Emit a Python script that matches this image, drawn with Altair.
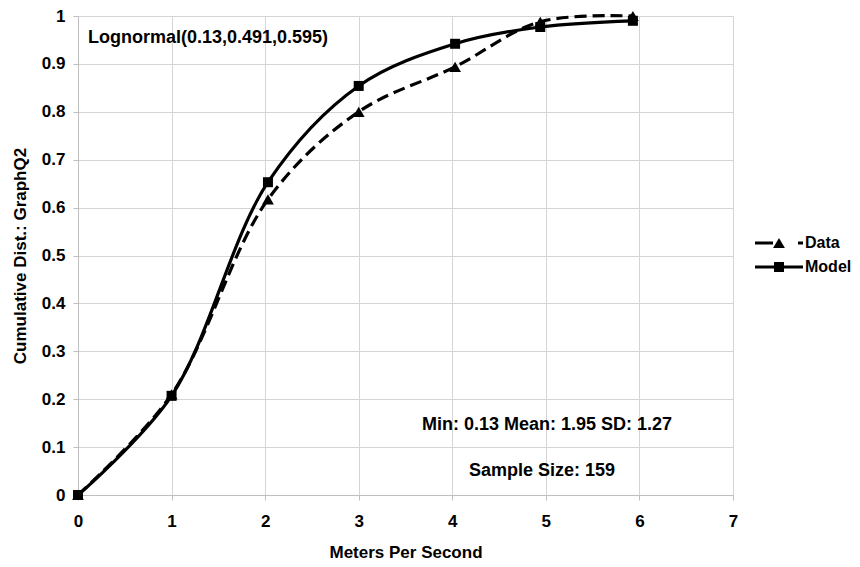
import altair as alt
import pandas as pd

# ---- values ----
x_vals = [0.0, 1.0, 2.03, 3.0, 4.03, 4.94, 5.93]
data_cdf = [0.0, 0.21, 0.617, 0.80, 0.894, 0.988, 1.0]
model_cdf = [0.0, 0.207, 0.653, 0.854, 0.942, 0.977, 0.99]
x_ticks = [0, 1, 2, 3, 4, 5, 6, 7]
y_ticks = [0, 0.1, 0.2, 0.3, 0.4, 0.5, 0.6, 0.7, 0.8, 0.9, 1.0]
series_names = ["Data", "Model"]
dist_label = "Lognormal(0.13,0.491,0.595)"
stats_label = "Min: 0.13 Mean: 1.95 SD: 1.27"
size_label = "Sample Size: 159"

FONT = "Liberation Sans"

df = pd.DataFrame(
    {
        "x": x_vals * 2,
        "y": data_cdf + model_cdf,
        "series": [series_names[0]] * len(x_vals) + [series_names[1]] * len(x_vals),
    }
)

xs = alt.Scale(domain=[0, 7], nice=False, zero=False)
ys = alt.Scale(domain=[0, 1], nice=False)

xenc = alt.X(
    "x:Q",
    scale=xs,
    axis=alt.Axis(values=x_ticks, title="Meters Per Second", format="d"),
)
yenc = alt.Y(
    "y:Q",
    scale=ys,
    axis=alt.Axis(values=y_ticks, title="Cumulative Dist.: GraphQ2", format="~g"),
)

base = alt.Chart(df)

data_line = base.transform_filter(alt.datum.series == "Data").mark_line(
    color="black", strokeWidth=3.2, strokeDash=[12, 6], interpolate="catmull-rom"
).encode(x=xenc, y=yenc)
data_pts = base.transform_filter(alt.datum.series == "Data").mark_point(
    shape="triangle-up", filled=True, color="black", size=140, opacity=1
).encode(x="x:Q", y="y:Q")

model_line = base.transform_filter(alt.datum.series == "Model").mark_line(
    color="black", strokeWidth=3.2, interpolate="catmull-rom"
).encode(x="x:Q", y="y:Q")
model_pts = base.transform_filter(alt.datum.series == "Model").mark_point(
    shape="square", filled=True, color="black", size=100, opacity=1
).encode(x="x:Q", y="y:Q")

# annotations
ann_df = pd.DataFrame({"t": [dist_label]})
dist_txt = alt.Chart(ann_df).mark_text(
    font=FONT, fontWeight="bold", fontSize=18, align="left", baseline="middle", color="black"
).encode(text="t:N", x=alt.value(10), y=alt.value(22))

stats_df = pd.DataFrame({"t": [stats_label]})
stats_txt = alt.Chart(stats_df).mark_text(
    font=FONT, fontWeight="bold", fontSize=18, align="center", baseline="middle", color="black"
).encode(text="t:N", x=alt.value(469), y=alt.value(409))

size_df = pd.DataFrame({"t": [size_label]})
size_txt = alt.Chart(size_df).mark_text(
    font=FONT, fontWeight="bold", fontSize=18, align="center", baseline="middle", color="black"
).encode(text="t:N", x=alt.value(464), y=alt.value(455))

# legend (drawn by hand to show line + marker)
leg_data = pd.DataFrame({"t": [series_names[0]]})
leg_model = pd.DataFrame({"t": [series_names[1]]})
leg1_line = alt.Chart(leg_data).mark_rule(
    color="black", strokeWidth=3, strokeDash=[18, 25]
).encode(x=alt.value(677), x2=alt.value(725), y=alt.value(227))
leg1_pt = alt.Chart(leg_data).mark_point(
    shape="triangle-up", filled=True, color="black", size=140, opacity=1
).encode(x=alt.value(701), y=alt.value(227))
leg1_txt = alt.Chart(leg_data).mark_text(
    font=FONT, fontWeight="bold", fontSize=16, align="left", baseline="middle", color="black"
).encode(text="t:N", x=alt.value(727), y=alt.value(227))
leg2_line = alt.Chart(leg_model).mark_rule(color="black", strokeWidth=3).encode(
    x=alt.value(677), x2=alt.value(725), y=alt.value(251)
)
leg2_pt = alt.Chart(leg_model).mark_point(
    shape="square", filled=True, color="black", size=100, opacity=1
).encode(x=alt.value(701), y=alt.value(251))
leg2_txt = alt.Chart(leg_model).mark_text(
    font=FONT, fontWeight="bold", fontSize=16, align="left", baseline="middle", color="black"
).encode(text="t:N", x=alt.value(727), y=alt.value(251))

chart = (
    alt.layer(
        data_line, model_line, data_pts, model_pts,
        dist_txt, stats_txt, size_txt,
        leg1_line, leg1_pt, leg1_txt, leg2_line, leg2_pt, leg2_txt,
    )
    .properties(
        width=655,
        height=479,
        autosize=alt.AutoSizeParams(type="none"),
        padding={"left": 70, "top": 8, "right": 119, "bottom": 72},
        background="white",
    )
    .configure_view(stroke=None)
    .configure_axis(
        labelFont=FONT,
        labelFontWeight="bold",
        labelFontSize=17,
        labelColor="black",
        titleFont=FONT,
        titleFontWeight="bold",
        titleFontSize=17,
        titleColor="black",
        gridColor="#d4d4d4",
        gridWidth=1,
        domainColor="#bfbfbf",
        tickColor="#bfbfbf",
        tickSize=5,
    )
    .configure_axisX(labelPadding=13, titlePadding=15, labelFlush=False)
    .configure_axisY(labelPadding=8, titlePadding=12, labelFlush=False)
)

chart.save("out.html", embed_options={"renderer": "svg", "actions": False})
